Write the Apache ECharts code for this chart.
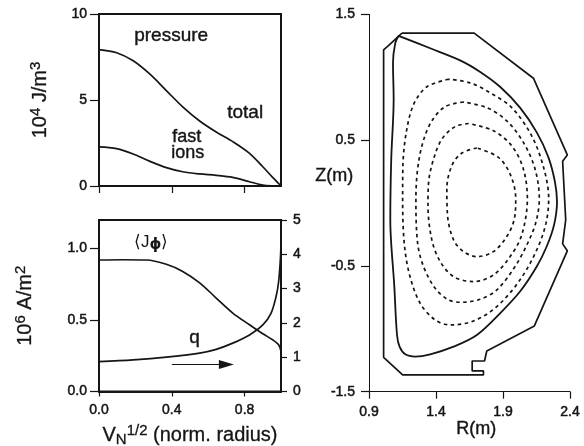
<!DOCTYPE html>
<html><head><meta charset="utf-8">
<style>html,body{margin:0;padding:0;background:#fff}#c{width:584px;height:446px}</style>
<script src="https://cdn.jsdelivr.net/npm/echarts@6/dist/echarts.min.js"></script>
</head><body><div id="c"></div>
<script>
const ink = '#151515';
const font = 'Liberation Sans';
const totalPressure = [[0,7.93],[0.097,7.75],[0.188,7.28],[0.28,6.5],[0.37,5.55],[0.46,4.6],[0.553,3.78],[0.644,3.14],[0.735,2.58],[0.827,1.9],[0.9,1.12],[0.954,0.5],[1,0]];
const fastIons = [[0,2.27],[0.097,2.17],[0.188,1.86],[0.28,1.43],[0.37,1.07],[0.46,0.83],[0.553,0.7],[0.644,0.62],[0.735,0.5],[0.827,0.25],[0.9,0.06],[0.95,0.01],[1,0]];
const currentDensity = [[0,0.92],[0.13,0.922],[0.26,0.92],[0.37,0.89],[0.46,0.84],[0.553,0.76],[0.644,0.654],[0.735,0.549],[0.827,0.467],[0.9,0.404],[0.954,0.362],[0.987,0.327],[1,0.28]];
const safetyFactor = [[0,0.87],[0.188,0.92],[0.37,1.0],[0.553,1.12],[0.644,1.23],[0.735,1.41],[0.827,1.65],[0.9,1.94],[0.945,2.28],[0.973,2.77],[0.987,3.2],[0.996,3.8],[1,4.3]];
const arrowSpan = [[0.4,0.79],[0.7,0.79]];
const wall = [[1.146,1.35],[1.685,1.35],[2.127,0.992],[2.38,0.382],[2.345,0.332],[2.368,-0.134],[2.345,-0.325],[2.38,-0.38],[2.134,-0.977],[1.779,-1.176],[1.762,-1.256],[1.67,-1.256],[1.67,-1.335],[1.754,-1.335],[1.754,-1.367],[1.151,-1.367],[1.009,-1.227],[1.009,1.218],[1.047,1.253],[1.146,1.35]];
const lcfs = [[1.121,1.329],[1.357,1.23],[1.58,1.134],[1.73,1.042],[1.878,0.924],[2.027,0.758],[2.152,0.561],[2.239,0.363],[2.288,0.166],[2.303,0.008],[2.281,-0.174],[2.226,-0.346],[2.152,-0.505],[2.027,-0.704],[1.878,-0.877],[1.705,-1.049],[1.531,-1.142],[1.357,-1.203],[1.245,-1.221],[1.171,-1.203],[1.128,-1.142],[1.109,-1.049],[1.089,-0.665],[1.059,-0.134],[1.066,0.35],[1.084,0.824],[1.079,1.113],[1.096,1.271],[1.121,1.329]];
const flux1 = [[1.494,0.984],[1.332,0.924],[1.233,0.784],[1.178,0.561],[1.153,0.297],[1.151,0.034],[1.163,-0.32],[1.203,-0.572],[1.282,-0.797],[1.394,-0.93],[1.506,-0.969],[1.68,-0.938],[1.853,-0.824],[2.027,-0.611],[2.152,-0.373],[2.221,-0.16],[2.241,0.034],[2.206,0.271],[2.114,0.534],[1.965,0.758],[1.804,0.876],[1.655,0.955],[1.494,0.984]];
const flux2 = [[1.605,0.803],[1.469,0.766],[1.369,0.653],[1.302,0.482],[1.263,0.271],[1.25,0.034],[1.263,-0.32],[1.307,-0.505],[1.394,-0.678],[1.494,-0.771],[1.593,-0.789],[1.729,-0.765],[1.854,-0.691],[1.99,-0.505],[2.09,-0.306],[2.147,-0.147],[2.171,0.034],[2.139,0.271],[2.052,0.482],[1.928,0.653],[1.779,0.758],[1.605,0.803]];
const flux3 = [[1.643,0.632],[1.543,0.608],[1.444,0.508],[1.382,0.35],[1.345,0.166],[1.34,-0.018],[1.369,-0.293],[1.431,-0.465],[1.531,-0.585],[1.68,-0.625],[1.829,-0.572],[1.953,-0.426],[2.04,-0.253],[2.082,0.034],[2.052,0.271],[1.965,0.455],[1.829,0.574],[1.643,0.632]];
const flux4 = [[1.705,0.437],[1.593,0.397],[1.518,0.297],[1.481,0.113],[1.486,-0.097],[1.531,-0.293],[1.605,-0.386],[1.705,-0.426],[1.829,-0.386],[1.928,-0.267],[1.983,-0.134],[1.995,0.034],[1.958,0.218],[1.866,0.363],[1.705,0.437]];
const radiusTicks = [0,0.4,0.8];
const pressureTicks = [0,5,10];
const currentTicks = [0,0.5,1];
const qTicks = [0,1,2,3,4,5];
const rTicks = [0.9,1.4,1.9,2.4];
const zTicks = [-1.5,-0.5,0.5,1.5];

const tickFont = {color:ink,fontFamily:font,fontSize:14,textBorderColor:ink,textBorderWidth:0.5};
function axis(o, ticks, dec, showLabel, lw, tickLen, margin){
  return Object.assign({
    type:'value', scale:false,
    axisLine:{show:true,onZero:false,lineStyle:{color:ink,width:lw}},
    axisTick:{show:true,customValues:ticks,length:tickLen,lineStyle:{color:ink,width:1.2}},
    axisLabel:Object.assign({show:showLabel,customValues:ticks,margin:margin,
      formatter:v=>dec?Number(v).toFixed(dec):String(v)},tickFont),
    splitLine:{show:false}
  },o);
}
function line(name,data,x,y,extra){
  return Object.assign({name,type:'line',data,xAxisIndex:x,yAxisIndex:y,showSymbol:false,symbol:'none',
    smooth:0.33,silent:true,clip:false,lineStyle:{color:ink,width:1.7}},extra||{});
}
const dashed = {lineStyle:{color:ink,width:1.7,type:[3.5,3.5]}};
const supStyle = {fontFamily:font,fontSize:15,color:ink,verticalAlign:'bottom',padding:[0,0,9,0]};
const bigText = {fontFamily:font,fontSize:20,color:ink,textBorderColor:ink,textBorderWidth:0.3};
function text(t,x,y,size){
  return {type:'text',left:x,top:y,silent:true,style:{text:t,fontFamily:font,fontSize:size,fill:ink,stroke:ink,lineWidth:0.4}};
}
const chart = echarts.init(document.getElementById('c'),null,{renderer:'canvas'});
chart.setOption({
  animation:false, backgroundColor:'#fff',
  grid:[
    {left:99,top:14,width:182,height:172,show:true,borderColor:ink,borderWidth:2,outerBoundsMode:'none'},
    {left:99,top:220,width:182,height:171.5,show:true,borderColor:ink,borderWidth:2,outerBoundsMode:'none'},
    {left:369,top:14.3,width:201,height:377.4,outerBoundsMode:'none'}
  ],
  xAxis:[
    axis({gridIndex:0,min:0,max:1},radiusTicks,1,false,2,7,12),
    axis({gridIndex:1,min:0,max:1,
      name:'V{sub|N}{sup|1/2} (norm. radius)',nameLocation:'middle',nameGap:31,
      nameTextStyle:Object.assign({},bigText,{rich:{
        sub:{fontFamily:font,fontSize:15,color:ink,verticalAlign:'top',padding:[10,0,0,0]},
        sup:supStyle}})},radiusTicks,1,true,2,5,12),
    axis({gridIndex:2,min:0.9,max:2.4},rTicks,1,true,1,7,13)
  ],
  yAxis:[
    axis({gridIndex:0,min:0,max:10,
      name:'10{sup|4} J/m{sup|3}',nameLocation:'middle',nameGap:47,
      nameTextStyle:Object.assign({},bigText,{rich:{sup:supStyle}})},pressureTicks,0,true,2,9,12),
    axis({gridIndex:1,min:0,max:1.2,
      name:'10{sup|6} A/m{sup|2}',nameLocation:'middle',nameGap:62,
      nameTextStyle:Object.assign({},bigText,{rich:{sup:supStyle}})},currentTicks,1,true,2,9,12),
    axis({gridIndex:1,position:'right',min:0,max:5},qTicks,0,true,2,6,12),
    axis({gridIndex:2,min:-1.5,max:1.5},zTicks,1,true,1,8,14)
  ],
  series:[
    line('total pressure',totalPressure,0,0),
    line('fast ion pressure',fastIons,0,0),
    line('current density',currentDensity,1,1),
    line('q',safetyFactor,1,2,{markLine:{silent:true,symbol:['none','triangle'],symbolSize:[9,15],label:{show:false},
      lineStyle:{color:ink,width:1.2,type:'solid'},
      data:[[{xAxis:arrowSpan[0][0],yAxis:arrowSpan[0][1]},{xAxis:arrowSpan[1][0],yAxis:arrowSpan[1][1]}]]}}),
    line('wall',wall,2,3,{smooth:false}),
    line('plasma boundary',lcfs,2,3,{lineStyle:{color:ink,width:1.8}}),
    line('flux 1',flux1,2,3,dashed),
    line('flux 2',flux2,2,3,dashed),
    line('flux 3',flux3,2,3,dashed),
    line('flux 4',flux4,2,3,dashed)
  ],
  graphic:[
    text('pressure',134,26,19),
    text('total',227,103,19),
    text('fast',172,128,18),
    text('ions',171,144,18),
    text('q',189,328,19),
    {type:'text',left:134,top:234,silent:true,style:{text:'⟨J{b|ϕ}⟩',fontFamily:font,fontSize:17,fill:ink,
      rich:{b:{fontFamily:'DejaVu Sans',fontSize:15,fontWeight:'bold',fill:ink,color:ink,verticalAlign:'top',padding:[5,0,0,0]}}}},
    text('Z(m)',315,167,18),
    text('R(m)',456,420,18)
  ]
});
</script></body></html>
